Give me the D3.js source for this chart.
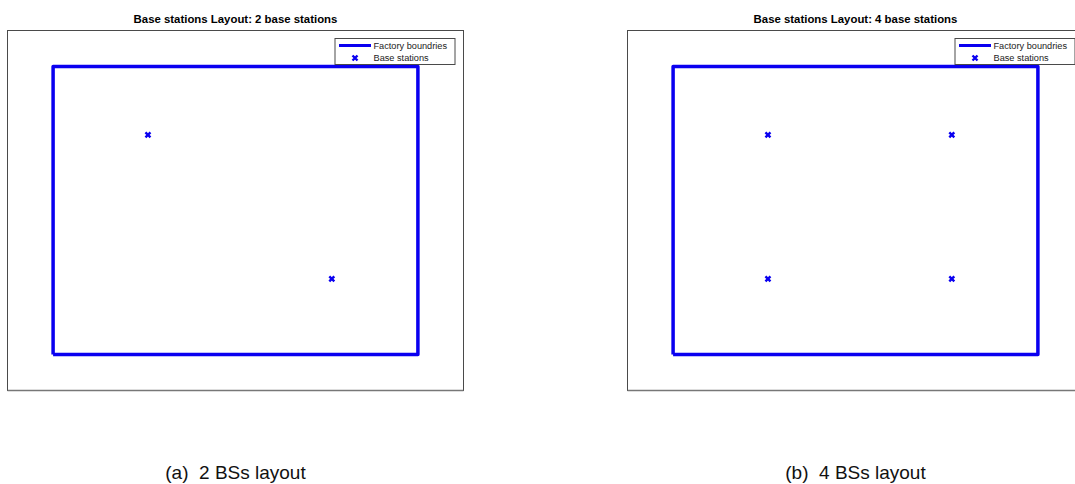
<!DOCTYPE html>
<html>
<head>
<meta charset="utf-8">
<script src="https://cdn.jsdelivr.net/npm/d3@7"></script>
<style>
  body { margin: 0; background: #fff; }
  svg { display: block; font-family: "Liberation Sans", Arial, sans-serif; }
</style>
</head>
<body>
<div id="chart"></div>
<script>
// factory outline (x, y in metres), closed
var factoryX = [0, 50, 50, 0, 0];
var factoryY = [0, 0, 40, 40, 0];

// base station positions per layout
var bs2X = [13, 38.2];
var bs2Y = [30.5, 10.5];
var bs4X = [13, 38.2, 13, 38.2];
var bs4Y = [30.5, 30.5, 10.5, 10.5];

var titles = ["Base stations Layout: 2 base stations", "Base stations Layout: 4 base stations"];
var captions = ["(a)  2 BSs layout", "(b)  4 BSs layout"];
var legendLabels = ["Factory boundries", "Base stations"];

var panels = [
    { title: titles[0], caption: captions[0], xs: bs2X, ys: bs2Y, left: 7.5 },
    { title: titles[1], caption: captions[1], xs: bs4X, ys: bs4Y, left: 627.5 }
];

var width = 1075, height = 484;
var blue = "#0a00f0";

var svg = d3.select("#chart")
    .append("svg")
    .attr("width", width)
    .attr("height", height);

panels.forEach(function (p) {
    var boxW = 456, boxH = 360, top = 30.5;

    var x = d3.scaleLinear().domain([-6.25, 56.25]).range([p.left, p.left + boxW]);
    var y = d3.scaleLinear().domain([-5, 45]).range([top + boxH, top]);

    var g = svg.append("g");

    // axes frame
    g.append("rect")
        .attr("x", p.left)
        .attr("y", top)
        .attr("width", boxW)
        .attr("height", boxH)
        .style("fill", "none")
        .style("stroke", "#4a4a4a")
        .style("stroke-width", 1);
    // darker bottom edge
    g.append("line")
        .attr("x1", p.left).attr("x2", p.left + boxW)
        .attr("y1", top + boxH).attr("y2", top + boxH)
        .style("stroke", "#777")
        .style("stroke-width", 1.5);

    g.append("text")
        .attr("x", p.left + boxW / 2)
        .attr("y", 23)
        .attr("text-anchor", "middle")
        .style("font-weight", "bold")
        .style("font-size", "11.4px")
        .text(p.title);

    var line = d3.line()
        .x(function (d) { return x(d[0]); })
        .y(function (d) { return y(d[1]); });

    g.append("path")
        .datum(d3.zip(factoryX, factoryY))
        .attr("d", line)
        .style("fill", "none")
        .style("stroke", blue)
        .style("stroke-width", 3.5)
        .style("stroke-linejoin", "round");

    var cross = "M-2.5,-2.5L2.5,2.5M-2.5,2.5L2.5,-2.5";
    g.selectAll(".bs")
        .data(d3.zip(p.xs, p.ys))
        .enter()
        .append("path")
        .attr("class", "bs")
        .attr("transform", function (d) { return "translate(" + x(d[0]) + "," + y(d[1]) + ")"; })
        .attr("d", cross)
        .style("stroke", blue)
        .style("stroke-width", 2.4);

    // legend
    var lg = g.append("g").attr("transform", "translate(" + (p.left + 327.5) + ",38.5)");
    lg.append("rect")
        .attr("width", 120)
        .attr("height", 26)
        .style("fill", "#fff")
        .style("stroke", "#4a4a4a")
        .style("stroke-width", 1);
    lg.append("line")
        .attr("x1", 4).attr("x2", 36)
        .attr("y1", 7).attr("y2", 7)
        .style("stroke", blue)
        .style("stroke-width", 3);
    lg.append("path")
        .attr("transform", "translate(20,19.5)")
        .attr("d", cross)
        .style("stroke", blue)
        .style("stroke-width", 2.4);
    lg.selectAll(".lbl")
        .data(legendLabels)
        .enter()
        .append("text")
        .attr("class", "lbl")
        .attr("x", 38.5)
        .attr("y", function (d, i) { return 10.5 + i * 12; })
        .style("font-size", "9.2px")
        .style("fill", "#222")
        .text(function (d) { return d; });

    g.append("text")
        .attr("x", p.left + boxW / 2)
        .attr("y", 479)
        .attr("text-anchor", "middle")
        .style("font-size", "19px")
        .style("white-space", "pre")
        .style("fill", "#111")
        .text(p.caption);
});
</script>
</body>
</html>
